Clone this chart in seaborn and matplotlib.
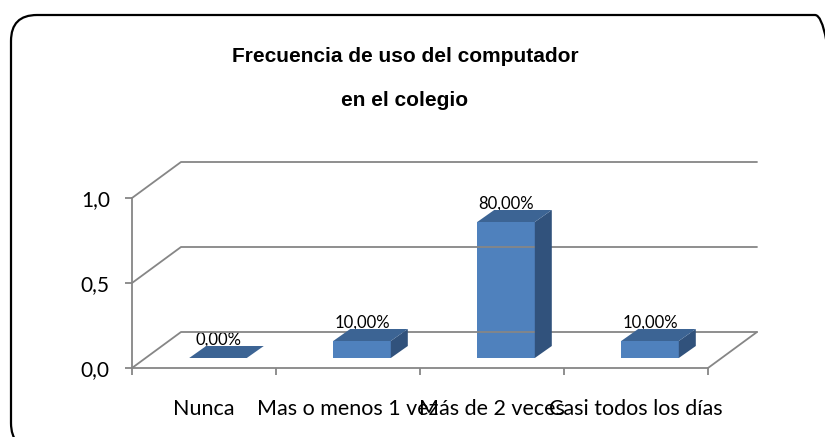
import matplotlib
matplotlib.use("Agg")
import matplotlib.pyplot as plt
import seaborn as sns
import numpy as np
from matplotlib.lines import Line2D
from matplotlib.patches import Polygon, FancyBboxPatch
from matplotlib.transforms import IdentityTransform, ScaledTranslation

categories = ["Nunca", "Mas o menos 1 vez", "Más de 2 veces", "Casi todos los días"]
values = [0.0, 0.10, 0.80, 0.10]
y_ticks = [0.0, 0.5, 1.0]
y_labels = ["0,0", "0,5", "1,0"]
title_lines = ["Frecuencia de uso del computador", "en el colegio"]

FRONT = "#4F81BD"
TOP = "#3C6494"
SIDE = "#31527C"
GRID = "#868686"

sns.set_style("white")
plt.rcParams["font.family"] = ["Lato", "DejaVu Sans"]
plt.rcParams["text.color"] = "black"
plt.rcParams["xtick.color"] = "black"
plt.rcParams["ytick.color"] = "black"

W, H = 825, 437
fig = plt.figure(figsize=(W / 100, H / 100), dpi=100)
ax = fig.add_axes([132 / W, (H - 368) / H, 576 / W, 170 / H])

sns.barplot(x=categories, y=values, width=0.4, color=FRONT, saturation=1,
            ax=ax, zorder=3)
ax.set_xlim(-0.5, 3.5)
ax.set_ylim(0, 1.0)

# depth of the back wall and of the bars (pixels)
DX, DY = 49, 36
SX, SY = 14, 10      # bars pushed back from the front edge
BX, BY = 17, 12      # bar depth

fig.canvas.draw()
T = ax.transData.transform

def line(pts):
    pts = np.array(pts)
    fig.add_artist(Line2D(pts[:, 0], pts[:, 1], color=GRID, lw=1.3,
                          transform=IdentityTransform(), zorder=1))

for v in y_ticks:
    a = T((-0.5, v))
    b = a + (DX, DY)
    c = T((3.5, v)) + (DX, DY)
    line([a, b, c])
r0 = T((3.5, 0))
line([r0, r0 + (DX, DY)])

shift = ScaledTranslation(SX / 100, SY / 100, fig.dpi_scale_trans)
for p in ax.patches:
    x0, w, h = p.get_x(), p.get_width(), p.get_height()
    p.set_transform(ax.transData + shift)
    p.set_edgecolor("none")
    a = T((x0, h)) + (SX, SY)
    b = T((x0 + w, h)) + (SX, SY)
    b0 = T((x0 + w, 0)) + (SX, SY)
    top = Polygon([a, b, b + (BX, BY), a + (BX, BY)], closed=True,
                  facecolor=TOP, edgecolor="none", transform=IdentityTransform(), zorder=4)
    side = Polygon([b0, b, b + (BX, BY), b0 + (BX, BY)], closed=True,
                   facecolor=SIDE, edgecolor="none", transform=IdentityTransform(), zorder=4)
    fig.add_artist(side)
    fig.add_artist(top)

for i, v in enumerate(values):
    ax.annotate(f"{v * 100:.2f}%".replace(".", ","), xy=(i, v), xytext=(SX, 20),
                textcoords="offset pixels", ha="center", va="bottom",
                fontsize=12, color="black", annotation_clip=False)

sns.despine(ax=ax, top=True, right=True)
for s in ["left", "bottom"]:
    ax.spines[s].set_color(GRID)
    ax.spines[s].set_linewidth(1.3)
ax.set_yticks(y_ticks)
ax.set_yticklabels(y_labels, fontsize=15)
ax.tick_params(axis="y", direction="out", length=5, color=GRID, width=1.3, pad=11, left=True)
ax.set_xticks([-0.5, 0.5, 1.5, 2.5, 3.5])
ax.set_xticklabels([])
ax.tick_params(axis="x", which="major", direction="out", length=5, color=GRID, width=1.3, bottom=True)
ax.set_xticks(range(len(categories)), minor=True)
ax.set_xticklabels(categories, minor=True, fontsize=15.5)
ax.tick_params(axis="x", which="minor", length=0, pad=22)
ax.set_xlabel("")
ax.set_ylabel("")
ax.patch.set_alpha(0)

fig.text(405 / W, 1 - 57 / H, title_lines[0], ha="center", va="center",
         fontsize=15, fontweight="bold", family="Liberation Sans", color="black")
fig.text(405 / W, 1 - 101 / H, title_lines[1], ha="center", va="center",
         fontsize=15, fontweight="bold", family="Liberation Sans", color="black")

border = FancyBboxPatch((11, -12), 830, 434, boxstyle="round,pad=0,rounding_size=26",
                        facecolor="none", edgecolor="black", lw=1.6,
                        transform=IdentityTransform(), zorder=0)
fig.add_artist(border)

fig.savefig("out.png", dpi=100)
